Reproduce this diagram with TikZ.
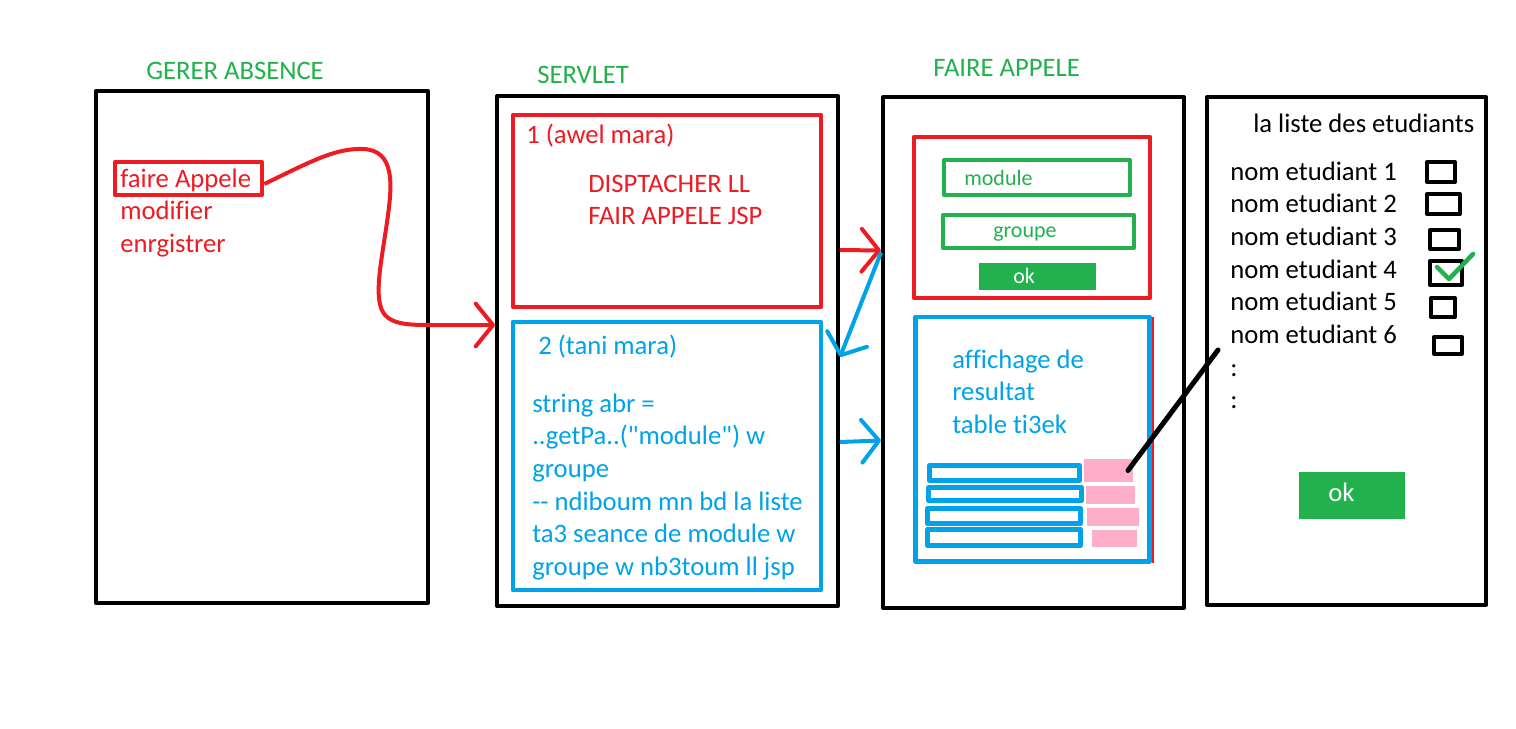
\documentclass[tikz,border=0pt]{standalone}
\usepackage{fontspec}
\setmainfont{Carlito}[Ligatures={TeXOff,CommonOff}]
\usetikzlibrary{arrows.meta,fit}
\definecolor{pred}{HTML}{ED1C24}
\definecolor{pblue}{HTML}{00A2E8}
\definecolor{pgreen}{HTML}{22B14C}
\definecolor{ppink}{HTML}{FFAEC9}
\newcommand{\rows}[1]{\begin{tabular}[t]{@{}l@{}}#1\end{tabular}}
\begin{document}
\begin{tikzpicture}[x=0.75pt,y=-0.75pt,line join=round,>={Straight Barb[length=13pt,width=32pt,round]}]
	\tikzset{frame/.style={draw,line width=3pt,inner sep=0pt},
		redframe/.style={draw=pred,line width=3.4pt,inner sep=0pt},
		blueframe/.style={draw=pblue,line width=3.4pt,inner sep=0pt},
		greenframe/.style={draw=pgreen,line width=3pt,inner sep=0pt},
		txt/.style={anchor=base west,inner sep=0pt,font=\fontsize{20}{24.5}\selectfont},
		title/.style={txt,text=pgreen},
		small/.style={anchor=base west,inner sep=0pt,font=\fontsize{16.5}{20}\selectfont},
		btn/.style={fill=pgreen,inner sep=0pt},
		cell/.style={draw=pblue,line width=3.75pt,inner sep=0pt},
		note/.style={fill=ppink,inner sep=0pt},
		tickbox/.style={draw,line width=3pt,inner sep=0pt}}
	\fill[white] (0,0) rectangle (1516,728);
	\useasboundingbox (0,0) rectangle (1516,728);
	\node[title] (t1) at (146,79) {GERER ABSENCE};
	\node[frame,fit={(96,91) (428,603)}] (gerer) {};
	\node[redframe,fit={(115,162) (262,195)}] (fa) {};
	\node[txt,text=pred] (menu) at (120,187) {\rows{faire Appele\\modifier\\enrgistrer}};
	\node[title] (t2) at (537,83) {SERVLET};
	\node[frame,fit={(497,96) (838,606)}] (servlet) {};
	\node[redframe,fit={(513,115) (821,307)}] (disp) {};
	\node[txt,text=pred] (d1) at (526,143) {1 (awel mara)};
	\node[txt,text=pred] (d2) at (588,192) {\rows{DISPTACHER LL\\FAIR APPELE JSP}};
	\node[blueframe,fit={(513,322) (821,590)}] (tani) {};
	\node[txt,text=pblue] (t2a) at (538,354) {2 (tani mara)};
	\node[txt,text=pblue] (t2b) at (532,412) {\rows{string abr =\\..getPa..("module") w\\groupe\\-- ndiboum mn bd la liste\\ta3 seance de module w\\groupe w nb3toum ll jsp}};
	\node[title] (t3) at (933,76) {FAIRE APPELE};
	\node[frame,fit={(883,97) (1184,608)}] (appel) {};
	\node[redframe,fit={(914,137) (1150,298)}] (form) {};
	\node[greenframe,fit={(944,160) (1130,195)}] (mod) {};
	\node[small,text=pgreen] (modt) at (964,185) {module};
	\node[greenframe,fit={(943,215) (1134,248)}] (grp) {};
	\node[small,text=pgreen] (grpt) at (993,237) {groupe};
	\node[btn,fit={(979,263) (1096,290)}] (ok1) {};
	\node[small,text=white] (ok1t) at (1013,283) {ok};
	\draw[pred,line width=1.2pt] (1153,317) -- (1153,563);
	\node[blueframe,fit={(915.5,317) (1149.5,561.5)}] (res) {};
	\node[txt,text=pblue] (rest) at (952,368) {\rows{affichage de\\resultat\\table ti3ek}};
	\node[cell,fit={(929.5,465.5) (1079.5,480.5)}] (r1) {};
	\node[cell,fit={(928.5,487.5) (1081.5,500.5)}] (r2) {};
	\node[cell,fit={(927.5,508.5) (1080.5,523.5)}] (r3) {};
	\node[cell,fit={(927.5,529.5) (1080.5,545.5)}] (r4) {};
	\node[note,fit={(1084,459) (1133,482)}] (p1) {};
	\node[note,fit={(1086,486) (1135,504)}] (p2) {};
	\node[note,fit={(1087,508) (1139,526)}] (p3) {};
	\node[note,fit={(1092,530) (1137,547)}] (p4) {};
	\node[frame,fit={(1207,97) (1486,605)}] (liste) {};
	\node[txt] (lt) at (1253,132) {la liste des etudiants};
	\node[txt] (noms) at (1230,180) {\rows{nom etudiant 1\\nom etudiant 2\\nom etudiant 3\\nom etudiant 4\\nom etudiant 5\\nom etudiant 6\\:\\:}};
	\node[tickbox,fit={(1427,162) (1455,182)}] (c1) {};
	\node[tickbox,fit={(1427,194) (1460,214)}] (c2) {};
	\node[tickbox,fit={(1430,230) (1459,249)}] (c3) {};
	\node[tickbox,fit={(1430,261) (1462,285)}] (c4) {};
	\node[tickbox,fit={(1431,298) (1455,317)}] (c5) {};
	\node[tickbox,fit={(1434,337) (1462,354)}] (c6) {};
	\draw[pgreen,line width=3.4pt,line cap=round] (1437,267) -- (1449,279) -- (1473,254);
	\node[btn,fit={(1299,472) (1405,519)}] (ok2) {};
	\node[txt,text=white] (ok2t) at (1328,501) {ok};
	\coordinate (lstend) at (1218,350);
	\draw[pred,line width=3pt,->] ([yshift=-4.1pt]fa.east) .. controls (310,162) and (335,148) .. (363,149) .. controls (395,150) and (392,185) .. (388,215) .. controls (382,260) and (372,300) .. (385,315) .. controls (392,323) and (405,325) .. (427,325) -- ([yshift=19.5pt]servlet.west);
	\draw[pred,line width=3pt,->] ([yshift=75.75pt]servlet.east) -- ([yshift=76.5pt]appel.west);
	\draw[pblue,line width=3pt,->] ([yshift=75pt]appel.west) -- ([yshift=-4.5pt]servlet.east);
	\draw[pblue,line width=3pt,->] ([yshift=-68.25pt]servlet.east) -- ([yshift=-66pt]appel.west);
	\draw[line width=3.75pt,line cap=round] ([xshift=-4pt]p1.east) -- (lstend);
\end{tikzpicture}
\end{document}
